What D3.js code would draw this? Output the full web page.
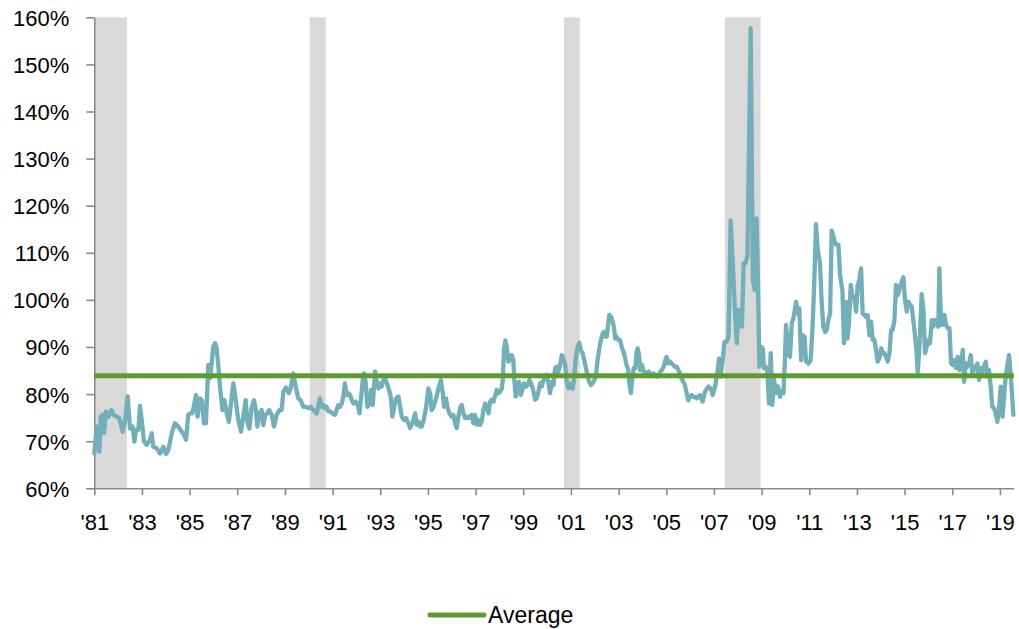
<!DOCTYPE html>
<html>
<head>
<meta charset="utf-8">
<script src="https://cdn.jsdelivr.net/npm/d3@7"></script>
<style>
  body { margin: 0; background: #fff; }
  svg { display: block; }
  text { font-family: "Liberation Sans", Arial, sans-serif; }
</style>
</head>
<body>
<svg id="chart" width="1019" height="629"></svg>
<script>
// Series starts July 1981; monthIdx = months since Jul 1981
const monthIdx = [
  0,1.2,2.0,2.5,3.2,4.2,4.9,5.9,7.1,8.7,9.6,11.3,12.6,14.3,15.5,16.8,18.0,19.3,20.2,21.0,22.2,23.0,23.9,25.0,26.4,28.0,28.9,29.7,31.4,33.1,34.8,36.1,37.3,39.0,40.6,42.3,44.0,44.8,46.2,47.3,48.2,49.4,50.4,51.2,52.0,53.2,54.2,55.2,56.2,57.4,58.3,59.1,59.9,60.8,61.6,62.5,63.3,64.5,65.5,66.7,67.8,68.8,70.0,71.0,72.5,73.9,75.0,76.2,77.2,78.1,79.2,80.4,81.4,82.1,83.1,84.3,85.1,86.1,87.1,88.1,89.3,90.5,91.8,93.2,94.3,95.2,96.5,97.9,98.9,100.2,101.6,102.7,103.9,105.3,106.6,107.8,109.0,110.3,112.0,113.6,
  114.5,115.3,116.2,117.0,117.9,119.0,120.0,121.2,122.0,122.9,123.7,124.6,125.4,126.2,127.1,127.9,128.8,129.6,130.5,131.6,132.5,133.5,134.2,135.2,135.9,136.7,137.5,138.5,139.4,140.2,141.4,142.2,143.1,143.9,144.7,145.6,146.4,147.3,148.4,149.4,150.1,151.0,152.0,153.1,154.0,154.8,156.0,157.0,158.2,159.0,159.9,160.7,161.5,162.4,163.2,164.0,164.9,165.7,167.1,168.2,169.1,169.9,170.8,172.1,173.3,174.5,175.5,176.1,177.1,177.8,178.8,180.0,180.8,181.7,182.5,183.3,184.2,185.0,185.9,186.7,187.5,188.4,189.2,190.1,190.9,191.7,192.6,193.4,194.3,195.1,195.9,196.8,197.6,198.5,199.3,200.1,201.0,201.8,202.6,203.5,204.3,205.2,205.7,206.3,207.0,207.7,208.5,209.4,210.2,211.0,211.5,212.2,213.1,213.9,214.7,215.6,216.4,217.3,218.1,219.1,219.9,220.8,222.0,222.8,223.6,224.5,225.3,226.2,227.0,227.8,228.7,229.5,230.3,231.2,232.0,232.9,233.7,234.6,235.4,236.2,237.1,237.9,238.7,
  239.2,240.0,240.9,241.7,242.5,243.4,244.2,245.0,245.9,246.7,247.6,248.4,249.2,250.1,250.9,251.8,252.6,253.4,254.3,255.1,256.0,256.6,257.3,258.0,258.8,259.3,260.2,261.0,261.7,262.3,263.0,263.8,264.7,265.5,266.4,267.2,268.0,268.9,269.4,270.2,270.9,271.6,272.4,273.1,273.6,274.3,274.9,275.8,276.6,277.4,278.3,279.1,280.0,280.8,281.6,282.5,283.3,284.2,285.0,285.8,286.7,287.5,288.2,289.0,289.9,290.7,291.5,292.4,293.2,294.1,294.9,295.7,296.6,297.4,298.3,299.1,299.9,300.8,301.6,302.5,303.3,304.1,
  305.0,306.3,307.5,309.2,310.4,311.4,312.6,313.7,314.6,315.4,316.4,317.3,318.4,319.4,320.4,321.4,322.5,323.5,324.3,325.1,326.1,327.0,328.0,328.9,330.5,331.6,332.5,333.5,334.2,334.9,335.7,336.6,337.2,338.1,338.9,339.7,340.6,341.4,342.3,343.3,344.3,
  345.3,346.1,347.0,347.8,348.3,349.5,350.3,351.2,352.0,353.4,354.2,355.0,355.9,356.7,357.6,358.4,359.6,360.7,361.6,362.4,363.4,364.3,365.4,366.3,367.1,368.0,368.8,369.6,370.5,371.3,372.2,373.0,373.8,374.7,375.5,376.7,377.5,378.4,379.2,380.0,380.9,381.7,382.6,383.6,384.4,385.2,386.1,386.9,387.8,388.6,389.4,390.3,391.1,392.0,392.8,393.6,394.5,395.3,396.2,397.0,397.8,398.7,399.5,400.4,401.2,402.0,402.9,403.7,404.5,405.4,406.2,407.4,408.2,409.1,409.9,410.8,411.6,412.4,413.3,414.1,414.6,415.5,416.6,417.5,418.3,419.2,420.0,420.8,421.7,422.5,423.3,424.2,425.0,425.5,426.4,427.2,428.0,428.9,429.7,430.6,431.4,432.2,433.1,433.9,434.8,435.6,436.4,437.3,438.0,438.8,439.6,440.5,441.3,442.1,443.0,443.8,444.7,445.5,446.3,447.2,448.0,448.9,449.7,450.5,451.4,452.2,453.1,453.9,454.7,455.6,456.4,457.3,458.1,458.9,459.8,460.6,461.4,462.3,462.8
];
const ratioPct = [
  67.4,73.1,73.1,67.8,75.2,75.6,71.7,76.3,75.2,76.6,75.6,75.2,74.9,72.0,74.5,79.5,72.7,73.1,69.9,72.4,72.4,77.5,74.5,69.9,69.2,70.3,71.7,68.8,68.5,67.4,68.8,67.3,68.1,71.7,73.8,73.1,72.0,71.7,70.3,75.6,75.9,75.9,78.0,79.8,75.2,79.1,78.7,73.8,73.8,86.2,83.4,86.5,90.1,90.8,89.7,85.8,81.6,76.6,78.7,75.9,74.1,78.0,82.3,79.5,74.5,72.0,75.2,78.7,73.8,72.7,77.0,78.7,76.6,73.1,75.9,76.6,73.4,75.6,75.9,76.6,75.6,73.1,75.6,76.6,76.6,80.5,81.4,80.2,81.2,84.4,81.2,79.1,78.7,77.3,77.3,77.0,77.3,76.6,75.9,79.1,
  77.3,77.7,77.0,77.3,76.3,76.3,75.9,75.6,76.6,77.7,77.3,78.0,79.5,82.3,79.8,80.2,79.8,78.8,78.0,78.4,78.0,75.9,78.8,83.0,84.4,82.3,77.3,78.0,80.9,77.7,84.8,82.3,81.2,82.3,81.6,83.0,83.4,82.3,80.9,79.1,75.2,77.3,79.1,79.5,77.3,75.2,74.5,74.9,73.8,72.8,73.5,74.5,75.9,73.5,74.2,73.1,73.1,74.2,77.3,81.2,80.2,76.6,77.3,79.1,81.2,83.0,80.2,77.3,79.1,77.3,75.9,75.2,75.6,73.8,72.8,75.2,77.0,77.7,75.9,74.9,75.2,74.9,75.2,75.6,73.8,75.6,73.5,74.5,73.5,74.2,76.6,78.0,77.3,75.9,78.4,78.8,78.4,79.5,80.9,80.2,80.5,81.2,83.0,89.4,91.4,90.1,86.9,87.2,88.3,87.2,83.0,79.5,82.3,82.6,79.8,80.9,82.3,81.6,81.9,83.0,82.3,81.2,78.8,79.1,80.5,82.3,81.6,83.0,83.7,84.1,82.3,80.2,82.6,81.9,85.5,85.8,84.8,86.2,88.3,87.6,86.2,82.6,81.2,
  82.3,81.4,81.2,83.7,87.9,90.1,90.9,89.3,88.6,87.2,85.5,83.7,82.6,81.9,82.3,83.0,84.0,87.2,89.7,91.5,92.9,93.2,92.2,92.2,95.0,96.8,96.4,95.4,94.0,91.8,92.2,91.5,91.5,90.1,89.0,87.9,86.2,85.1,82.3,80.2,83.3,85.5,85.5,89.0,89.7,88.3,85.1,86.2,84.8,84.4,84.4,84.8,84.4,84.0,84.4,84.0,83.7,84.0,84.8,85.1,85.8,87.2,87.9,86.5,86.9,86.5,86.2,85.8,85.8,85.1,84.4,83.3,82.6,81.9,80.2,78.7,79.4,79.8,79.4,79.4,79.1,79.4,
  79.8,78.4,80.5,81.6,81.2,79.8,81.6,84.4,87.6,83.7,87.2,91.1,91.1,92.2,116.9,108.5,98.6,90.8,97.9,97.5,94.3,107.8,107.8,109.5,157.7,104.2,102.1,117.3,102.8,85.8,90.1,89.7,85.5,85.8,85.1,78.0,88.7,77.7,83.0,80.2,81.6,
  79.4,80.5,80.2,87.9,94.7,88.6,87.9,95.0,96.1,99.6,97.1,98.2,87.2,92.5,92.2,86.9,86.5,87.2,93.6,102.1,116.1,110.6,107.8,99.3,94.3,93.2,93.6,95.7,97.1,114.7,113.4,112.0,111.7,111.7,105.3,102.1,90.8,99.6,91.8,95.0,103.2,100.7,100.7,97.5,103.2,104.2,106.7,97.1,96.8,96.4,96.8,92.5,95.4,91.5,91.5,89.4,86.9,87.6,89.7,88.7,88.7,87.9,86.9,88.7,93.6,93.6,95.7,103.2,101.0,102.1,103.5,104.8,100.0,97.5,99.6,98.9,98.6,95.7,92.2,88.7,84.4,90.1,101.2,97.9,88.7,90.1,91.5,90.8,95.7,94.3,95.7,95.4,94.3,106.7,94.7,94.7,96.8,94.7,94.0,94.0,86.5,86.2,87.2,85.5,87.9,85.1,86.2,89.4,82.6,86.5,85.8,86.5,88.3,84.4,85.1,85.8,86.5,83.0,85.5,84.8,85.8,86.9,83.7,85.1,81.6,77.3,77.0,75.9,74.1,77.0,81.6,75.2,79.4,83.7,86.2,88.3,84.4,78.7,75.6
];
const averagePct = 83.9;
const recessionStart = ["1981-08", "1990-08", "2001-04", "2008-01"];
const recessionEnd   = ["1982-11", "1991-03", "2001-11", "2009-06"];
const yTicks = [60, 70, 80, 90, 100, 110, 120, 130, 140, 150, 160];
const xTickLabels = ["'81","'83","'85","'87","'89","'91","'93","'95","'97","'99","'01","'03","'05","'07","'09","'11","'13","'15","'17","'19"];
const legendLabel = "Average";

const toIdx = s => { const [yy, mm] = s.split("-").map(Number); return (yy - 1981) * 12 + (mm - 7); };

const svg = d3.select("#chart");
const x = d3.scaleLinear().domain([0, 463]).range([94.3, 1013.8]);
const y = d3.scaleLinear().domain([60, 160]).range([488.3, 17.3]);

// recession shading
svg.append("g").selectAll("rect")
  .data(recessionStart.map((s, i) => [toIdx(s) - 0.5, toIdx(recessionEnd[i]) + 0.5]))
  .join("rect")
  .attr("x", d => x(Math.max(0, d[0])))
  .attr("width", d => x(d[1]) - x(Math.max(0, d[0])))
  .attr("y", y(160))
  .attr("height", y(60) - y(160))
  .attr("fill", "#D9D9D9");

// axes
const axisColor = "#898989";
const yAxis = svg.append("g")
  .attr("transform", `translate(${x(0)},0)`)
  .call(d3.axisLeft(y).tickValues(yTicks).tickSize(8).tickSizeOuter(0).tickPadding(17).tickFormat(d => d + "%"));
const xAxis = svg.append("g")
  .attr("transform", `translate(0,${y(60)})`)
  .call(d3.axisBottom(x).tickValues(d3.range(0, 457, 24)).tickSize(7).tickSizeOuter(0).tickPadding(19)
    .tickFormat((d, i) => xTickLabels[i]));
[yAxis, xAxis].forEach(g => {
  g.select(".domain").attr("stroke", axisColor).attr("stroke-width", 1.6);
  g.selectAll(".tick line").attr("stroke", axisColor).attr("stroke-width", 1.6);
  g.selectAll(".tick text").attr("fill", "#000").style("font-size", "22px");
});
yAxis.selectAll(".tick text").attr("dy", "0.36em");

// series line
const data = monthIdx.map((m, i) => [m, ratioPct[i]]);
svg.append("path")
  .datum(data)
  .attr("fill", "none")
  .attr("stroke", "#72AFB8")
  .attr("stroke-width", 4.3)
  .attr("stroke-linejoin", "round")
  .attr("stroke-linecap", "round")
  .attr("d", d3.line().x(d => x(d[0])).y(d => y(d[1])));

// average line
svg.append("line")
  .attr("x1", x(0)).attr("x2", x(463))
  .attr("y1", y(averagePct)).attr("y2", y(averagePct))
  .attr("stroke", "#5E9A32").attr("stroke-width", 5);

// legend
const lg = svg.append("g");
lg.append("line").attr("x1", 430).attr("x2", 484).attr("y1", 615).attr("y2", 615)
  .attr("stroke", "#5E9A32").attr("stroke-width", 5).attr("stroke-linecap", "round");
lg.append("text").attr("x", 488).attr("y", 623).style("font-size", "23px").attr("fill", "#000").text(legendLabel);
</script>
</body>
</html>
